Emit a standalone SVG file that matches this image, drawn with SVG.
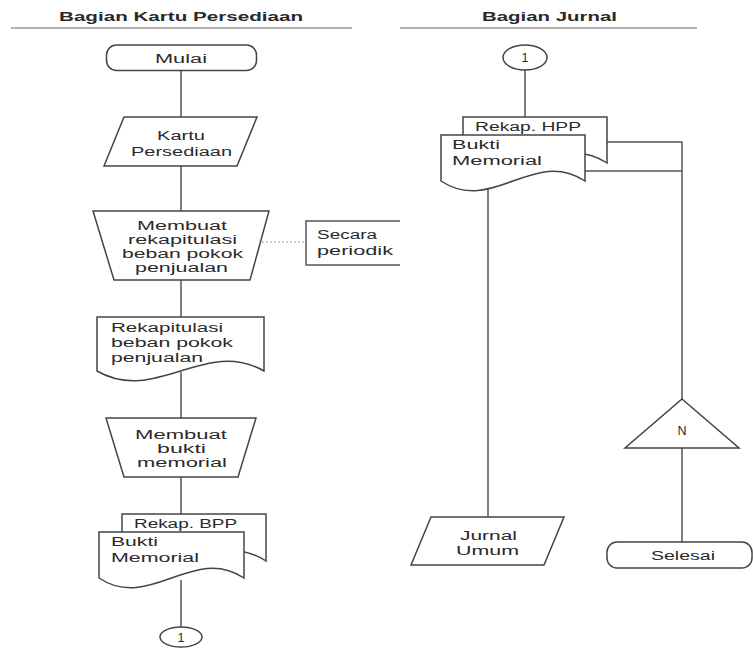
<svg xmlns="http://www.w3.org/2000/svg" width="753" height="651" viewBox="0 0 753 651">
<style>
.s{fill:#fff;stroke:#444;stroke-width:1.5}
.l{fill:none;stroke:#555;stroke-width:1.5}
.d{fill:none;stroke:#999;stroke-width:1;stroke-dasharray:2,2}
text{font-family:"Liberation Sans","DejaVu Sans",sans-serif;font-size:12.5px;fill:#2a2a2a}
.h{font-weight:bold;font-size:13.5px}
.c{text-anchor:middle}
</style>
<rect width="753" height="651" fill="#fff"/>
<g id="headers">
<text class="h" x="59" y="21" textLength="244" lengthAdjust="spacingAndGlyphs">Bagian Kartu Persediaan</text>
<line x1="11" y1="28" x2="352" y2="28" stroke="#666" stroke-width="1.2"/>
<text class="h" x="482" y="21" textLength="135" lengthAdjust="spacingAndGlyphs">Bagian Jurnal</text>
<line x1="400" y1="28" x2="697" y2="28" stroke="#666" stroke-width="1.2"/>
</g>
<g id="connectors">
<line class="l" x1="181" y1="71" x2="181" y2="117"/>
<line class="l" x1="181" y1="166" x2="181" y2="211"/>
<line class="l" x1="181" y1="280" x2="181" y2="317"/>
<line class="l" x1="181" y1="372" x2="181" y2="418"/>
<line class="l" x1="181" y1="477" x2="181" y2="514"/>
<line class="l" x1="181" y1="580" x2="181" y2="627"/>
<line class="d" x1="262" y1="242" x2="306" y2="242"/>
<line class="l" x1="525" y1="70" x2="525" y2="117"/>
<polyline class="l" points="607,142 682,142 682,399"/>
<line class="l" x1="585" y1="171" x2="682" y2="171"/>
<line class="l" x1="488" y1="189" x2="488" y2="517"/>
<line class="l" x1="682" y1="448" x2="682" y2="542"/>
</g>
<g id="mulai">
<rect class="s" x="106.5" y="45" width="150" height="25.5" rx="10"/>
<text x="155" y="63" textLength="52" lengthAdjust="spacingAndGlyphs">Mulai</text>
</g>
<g id="kartu-persediaan">
<polygon class="s" points="124,117 257,117 237,166 104,166"/>
<text x="157" y="140" textLength="48" lengthAdjust="spacingAndGlyphs">Kartu</text>
<text x="131" y="156" textLength="101" lengthAdjust="spacingAndGlyphs">Persediaan</text>
</g>
<g id="membuat-rekap">
<polygon class="s" points="93,211 269,211 250,280 114,280"/>
<text x="137" y="230" textLength="90" lengthAdjust="spacingAndGlyphs">Membuat</text>
<text x="128" y="244" textLength="109" lengthAdjust="spacingAndGlyphs">rekapitulasi</text>
<text x="122" y="258" textLength="121" lengthAdjust="spacingAndGlyphs">beban pokok</text>
<text x="135" y="272" textLength="93" lengthAdjust="spacingAndGlyphs">penjualan</text>
</g>
<g id="secara-periodik">
<path class="l" d="M400,221 H306 V265 H400"/>
<text x="317" y="239" textLength="60" lengthAdjust="spacingAndGlyphs">Secara</text>
<text x="317" y="255" textLength="76" lengthAdjust="spacingAndGlyphs">periodik</text>
</g>
<g id="rekapitulasi-doc">
<path class="s" d="M97,317 H264 V371 C205,337 156,405 97,371 Z"/>
<text x="111" y="332" textLength="112" lengthAdjust="spacingAndGlyphs">Rekapitulasi</text>
<text x="111" y="347" textLength="122" lengthAdjust="spacingAndGlyphs">beban pokok</text>
<text x="111" y="362" textLength="92" lengthAdjust="spacingAndGlyphs">penjualan</text>
</g>
<g id="membuat-bukti">
<polygon class="s" points="106,418 256,418 238,477 124,477"/>
<text x="135" y="439" textLength="92" lengthAdjust="spacingAndGlyphs">Membuat</text>
<text x="157" y="453" textLength="49" lengthAdjust="spacingAndGlyphs">bukti</text>
<text x="137" y="467" textLength="90" lengthAdjust="spacingAndGlyphs">memorial</text>
</g>
<g id="rekap-bpp">
<path class="s" d="M122,514 H266 V561 C215,527 173,595 122,561 Z"/>
<text x="134" y="528" textLength="103" lengthAdjust="spacingAndGlyphs">Rekap. BPP</text>
<path class="s" d="M99,532 H244 V578 C193,544 150,612 99,578 Z"/>
<text x="111" y="546" textLength="47" lengthAdjust="spacingAndGlyphs">Bukti</text>
<text x="111" y="562" textLength="88" lengthAdjust="spacingAndGlyphs">Memorial</text>
</g>
<g id="connector-1-out">
<ellipse class="s" cx="181" cy="637" rx="21" ry="10"/>
<text class="c" x="181" y="641.5">1</text>
</g>
<g id="connector-1-in">
<ellipse class="s" cx="525" cy="57.5" rx="22" ry="12.5"/>
<text class="c" x="525" y="62">1</text>
</g>
<g id="rekap-hpp">
<path class="s" d="M463,117 H607 V163 C556,129 514,197 463,163 Z"/>
<text x="475" y="131" textLength="106" lengthAdjust="spacingAndGlyphs">Rekap. HPP</text>
<path class="s" d="M441,135 H585 V181 C534,147 492,215 441,181 Z"/>
<text x="452" y="149" textLength="48" lengthAdjust="spacingAndGlyphs">Bukti</text>
<text x="452" y="165" textLength="90" lengthAdjust="spacingAndGlyphs">Memorial</text>
</g>
<g id="arsip-n">
<polygon class="s" points="682,399 739,448 625,448"/>
<text class="c" x="682" y="435" font-size="11.5">N</text>
</g>
<g id="jurnal-umum">
<polygon class="s" points="431,517 564,517 544,565 411,565"/>
<text x="460" y="540" textLength="57" lengthAdjust="spacingAndGlyphs">Jurnal</text>
<text x="456" y="555" textLength="63" lengthAdjust="spacingAndGlyphs">Umum</text>
</g>
<g id="selesai">
<rect class="s" x="607" y="542" width="145" height="26" rx="10"/>
<text x="651" y="560" textLength="64" lengthAdjust="spacingAndGlyphs">Selesai</text>
</g>
</svg>
